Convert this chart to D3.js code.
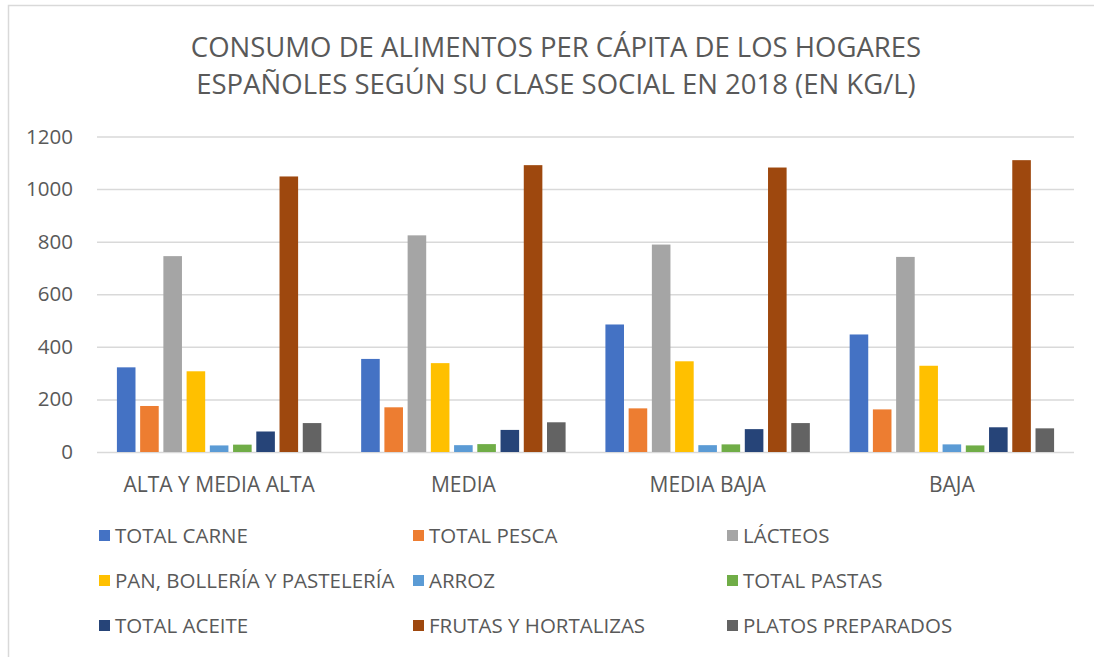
<!DOCTYPE html>
<html>
<head>
<meta charset="utf-8">
<script src="https://cdn.jsdelivr.net/npm/d3@7"></script>
<style>
  body { margin: 0; background: #fff; }
  text { font-family: 'Open Sans', Lato, sans-serif; fill: #595959; }
</style>
</head>
<body>
<script>
const categories = ['ALTA Y MEDIA ALTA', 'MEDIA', 'MEDIA BAJA', 'BAJA'];
const series = [
  'TOTAL CARNE', 'TOTAL PESCA', 'LÁCTEOS',
  'PAN, BOLLERÍA Y PASTELERÍA', 'ARROZ', 'TOTAL PASTAS',
  'TOTAL ACEITE', 'FRUTAS Y HORTALIZAS', 'PLATOS PREPARADOS',
];
const colors = ['#4472C4', '#ED7D31', '#A5A5A5', '#FFC000', '#5B9BD5', '#70AD47', '#264478', '#9E480E', '#636363'];

const totalCarne = [322, 354, 485, 447];
const totalPesca = [175, 170, 166, 162];
const lacteos = [745, 824, 789, 742];
const pan = [307, 338, 345, 328];
const arroz = [25, 26, 26, 29];
const pastas = [28, 30, 29, 25];
const aceite = [78, 84, 87, 94];
const frutas = [1048, 1091, 1082, 1110];
const platos = [110, 113, 110, 90];

const yTicks = [0, 200, 400, 600, 800, 1000, 1200];

const values = [totalCarne, totalPesca, lacteos, pan, arroz, pastas, aceite, frutas, platos];
const rows = [];
categories.forEach((c, i) => {
  series.forEach((s, j) => rows.push({ cat: c, ser: s, value: values[j][i], color: colors[j] }));
});

const w = 1094;
const h = 657;
const plotLeft = 97;
const plotRight = 1074;
const plotTop = 136.5;
const plotBottom = 452;

const svg = d3.select('body').append('svg').attr('width', w).attr('height', h);

svg.append('rect')
  .attr('x', 8.5).attr('y', 5.5)
  .attr('width', 1200).attr('height', 800)
  .attr('fill', 'none').attr('stroke', '#D9D9D9').attr('stroke-width', 1.5);

const x0 = d3.scaleBand().domain(categories).range([plotLeft, plotRight]);
const inner = x0.bandwidth() * 0.856;
const off = (x0.bandwidth() - inner) / 2;
const x1 = d3.scaleBand().domain(series).range([off, off + inner]).paddingInner(0.2).paddingOuter(0.1);
const y = d3.scaleLinear().domain([0, 1200]).range([plotBottom, plotTop]);

// title
const title = svg.append('text').attr('text-anchor', 'middle').style('font-size', '27.5px');
title.append('tspan').attr('x', 556).attr('y', 57).text('CONSUMO DE ALIMENTOS PER CÁPITA DE LOS HOGARES');
title.append('tspan').attr('x', 556).attr('y', 94).text('ESPAÑOLES SEGÚN SU CLASE SOCIAL EN 2018 (EN KG/L)');

// grid
const yAxis = d3.axisLeft(y).tickValues(yTicks).tickFormat(d3.format('d')).tickSize(-(plotRight - plotLeft)).tickPadding(24);
const gy = svg.append('g').attr('transform', `translate(${plotLeft},0)`).call(yAxis);
gy.select('.domain').remove();
gy.selectAll('line').attr('stroke', '#D9D9D9').attr('stroke-width', 1.5);
gy.selectAll('text').style('font-size', '20.5px').attr('fill', '#595959');

// bars
svg.append('g')
  .selectAll('rect')
  .data(rows)
  .enter()
  .append('rect')
  .attr('x', d => x0(d.cat) + x1(d.ser))
  .attr('y', d => y(d.value))
  .attr('width', x1.bandwidth())
  .attr('height', d => y(0) - y(d.value))
  .attr('fill', d => d.color);

// x labels
const xAxis = d3.axisBottom(x0).tickSize(0).tickPadding(25);
const gx = svg.append('g').attr('transform', `translate(0,${plotBottom})`).call(xAxis);
gx.select('.domain').remove();
gx.selectAll('text').style('font-size', '21px').attr('fill', '#595959');

// legend
const legX = [99, 413, 727];
const legY = [536, 581, 626];
const leg = svg.append('g')
  .selectAll('g')
  .data(series)
  .enter()
  .append('g')
  .attr('transform', (d, i) => `translate(${legX[i % 3]},${legY[Math.floor(i / 3)]})`);
leg.append('rect').attr('x', 0).attr('y', -6).attr('width', 11).attr('height', 11).attr('fill', (d, i) => colors[i]);
leg.append('text').attr('x', 16).attr('y', 0).attr('dy', '0.35em').style('font-size', '20.5px').text(d => d);
</script>
</body>
</html>
